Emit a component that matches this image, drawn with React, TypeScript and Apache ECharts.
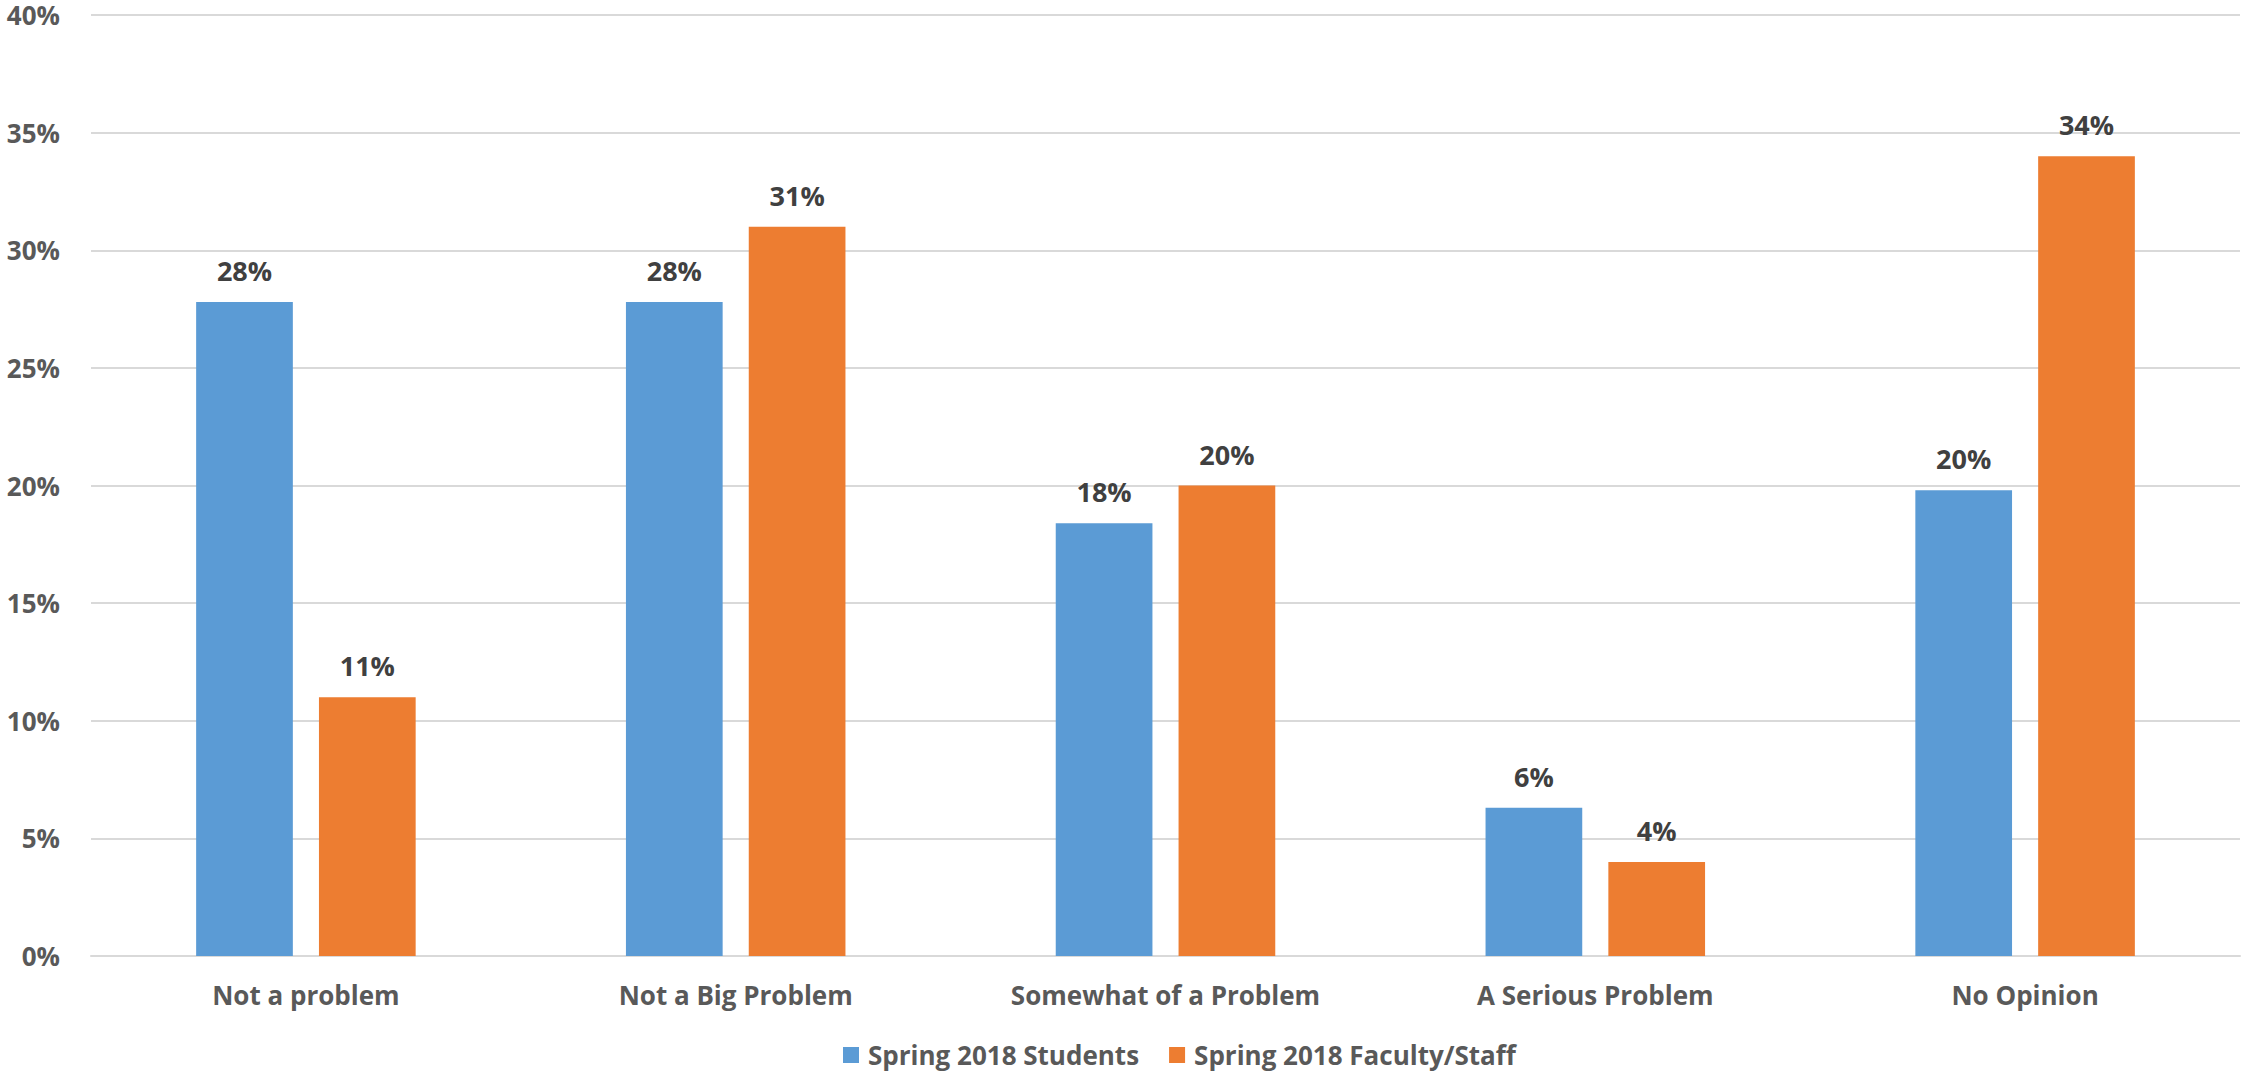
import React, { useEffect, useRef } from "react";
import * as echarts from "echarts";

const categories = ["Not a problem", "Not a Big Problem", "Somewhat of a Problem", "A Serious Problem", "No Opinion"];
const studentValues = [27.8, 27.8, 18.4, 6.3, 19.8];
const facultyValues = [11.0, 31.0, 20.0, 4.0, 34.0];
const seriesNames = ["Spring 2018 Students", "Spring 2018 Faculty/Staff"];
const yTicks = { min: 0, max: 40, interval: 5 };

const FONT = "'Open Sans', 'DejaVu Sans', sans-serif";

export default function App() {
  const ref = useRef<HTMLDivElement>(null);
  useEffect(() => {
    document.body.style.margin = "0";
    const chart = echarts.init(ref.current!, null, { renderer: "svg" });
    const label = {
      show: true,
      position: "top",
      distance: 18,
      color: "#404040",
      fontFamily: FONT,
      fontWeight: "bold",
      fontSize: 27,
      formatter: (p: any) => Math.round(p.value) + "%",
    };
    chart.setOption({
      animation: false,
      backgroundColor: "#ffffff",
      grid: { left: 91, right: 1, top: 15, bottom: 118, containLabel: false },
      legend: {
        left: 838,
        top: 1036,
        itemWidth: 16,
        itemHeight: 16,
        itemGap: 30,
        icon: "rect",
        textStyle: { color: "#595959", fontFamily: FONT, fontWeight: "bold", fontSize: 26, lineHeight: 28, padding: [0, 0, 0, 4] },
        data: seriesNames,
      },
      xAxis: {
        type: "category",
        data: categories,
        axisLine: { lineStyle: { color: "#d9d9d9", width: 2 } },
        axisTick: { show: false },
        axisLabel: { color: "#595959", fontFamily: FONT, fontWeight: "bold", fontSize: 26, margin: 26 },
      },
      yAxis: {
        type: "value",
        min: yTicks.min,
        max: yTicks.max,
        interval: yTicks.interval,
        axisLine: { show: false },
        axisTick: { show: false },
        splitLine: { lineStyle: { color: "#d9d9d9", width: 2 } },
        axisLabel: {
          color: "#595959",
          fontFamily: FONT,
          fontWeight: "bold",
          fontSize: 26,
          lineHeight: 20,
          margin: 31,
          formatter: (v: number) => v + "%",
        },
      },
      series: [
        {
          name: seriesNames[0],
          type: "bar",
          data: studentValues,
          barWidth: "22.5%",
          barGap: "27%",
          itemStyle: { color: "#5b9bd5" },
          label,
        },
        {
          name: seriesNames[1],
          type: "bar",
          data: facultyValues,
          barWidth: "22.5%",
          barGap: "27%",
          itemStyle: { color: "#ed7d31" },
          label,
        },
      ],
    });
    return () => chart.dispose();
  }, []);
  return <div ref={ref} style={{ width: 2241, height: 1074 }} />;
}
